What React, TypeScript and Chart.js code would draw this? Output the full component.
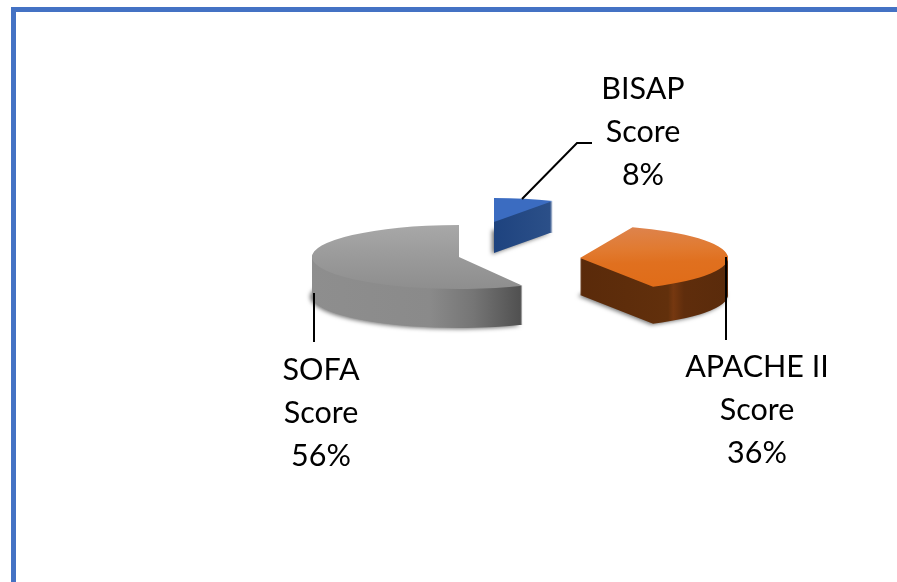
import React, { useEffect, useRef } from "react";
import { Chart, registerables } from "chart.js";

Chart.register(...registerables);

// ---- data ----
const categories = ["BISAP Score", "APACHE II Score", "SOFA Score"];
const values = [8, 36, 56];

// ---- per-slice look of the exploded 3D pie ----
const FONT = '30.5px Lato, "Open Sans", sans-serif';
const placement = [
  { cx: 494, cy: 222, rx: 122, ry: 24, depth: 31, rot: 0, startShift: 0 },
  { cx: 580, cy: 258, rx: 148, ry: 33, depth: 37, rot: -8, startShift: 0 },
  { cx: 459, cy: 257, rx: 147, ry: 32, depth: 39, rot: 0, startShift: -4 },
];
const topStops = [
  [[0.46, "#3b6cc1"], [0.54, "#2d5ba8"]],
  [[0.0, "#dd8552"], [0.4, "#e17a30"], [0.6, "#e0701f"], [1, "#e06c18"]],
  [[0, "#a8a8a8"], [0.5, "#9a9a9a"], [1, "#8e8e8e"]],
];
const sideStops = [
  [[0.5, "#1e437f"], [0.72, "#2b4f88"], [1, "#34568c"]],
  [[0.5, "#5a2a0a"], [0.74, "#62300c"], [0.76, "#763810"], [0.8, "#5f2d0c"], [1, "#5a2b0b"]],
  [[0, "#8e8e8e"], [0.4, "#8a8a8a"], [0.55, "#757575"], [0.72, "#4e4e4e"], [1, "#4e4e4e"]],
];
const labelAnchors = [
  { x: 643, y: 89 },
  { x: 757, y: 367 },
  { x: 321, y: 370 },
];
const leaders = [
  [[522, 199], [577, 143], [592, 143]],
  [[726, 257], [726, 340]],
  [[314, 293], [314, 342]],
];
const LINE_GAP = 43;

function linear(ctx: CanvasRenderingContext2D, x0: number, y0: number, x1: number, y1: number, stops: any[]) {
  const g = ctx.createLinearGradient(x0, y0, x1, y1);
  stops.forEach(([o, c]) => g.addColorStop(o, c));
  return g;
}

const pie3d = {
  id: "pie3d",
  beforeDatasetsDraw(chart: any) {
    const ctx: CanvasRenderingContext2D = chart.ctx;
    const arcs = chart.getDatasetMeta(0).data;
    arcs.forEach((arc: any, i: number) => {
      const p = placement[i];
      const R = arc.outerRadius;
      const base = arc.options;
      const start = arc.startAngle;
      const circ = arc.circumference;
      const shift = (p.startShift * Math.PI) / 180;
      arc.startAngle = start + shift;
      arc.circumference = circ - shift;
      const paint = (dy: number, fill: any) => {
        ctx.save();
        ctx.translate(p.cx, p.cy + dy);
        ctx.scale(p.rx / R, p.ry / R);
        ctx.rotate((p.rot * Math.PI) / 180);
        ctx.translate(-arc.x, -arc.y);
        arc.options = { ...base, backgroundColor: fill, borderWidth: 0, offset: 0 };
        arc.draw(ctx);
        ctx.restore();
      };
      const side = linear(ctx, arc.x - R, 0, arc.x + R, 0, sideStops[i]);
      const top = linear(ctx, 0, arc.y - R, 0, arc.y + R, topStops[i]);
      // soft contact shadow under the slice
      ctx.save();
      ctx.shadowColor = "rgba(0,0,0,0.55)";
      ctx.shadowBlur = 4;
      ctx.shadowOffsetX = -2;
      ctx.shadowOffsetY = 1;
      paint(p.depth, side);
      ctx.restore();
      for (let d = p.depth - 1; d > 0; d--) paint(d, side);
      paint(0, top);
      arc.options = base;
      arc.startAngle = start;
      arc.circumference = circ;
    });
    return false;
  },
  afterDraw(chart: any) {
    const ctx: CanvasRenderingContext2D = chart.ctx;
    const total = values.reduce((a, b) => a + b, 0);
    ctx.save();
    ctx.strokeStyle = "#000";
    ctx.lineWidth = 2;
    leaders.forEach((pts) => {
      ctx.beginPath();
      pts.forEach(([x, y], k) => (k ? ctx.lineTo(x, y) : ctx.moveTo(x, y)));
      ctx.stroke();
    });
    ctx.fillStyle = "#000";
    ctx.font = FONT;
    ctx.textAlign = "center";
    ctx.textBaseline = "middle";
    categories.forEach((name, i) => {
      const words = name.split(" ");
      const last = words.pop();
      const lines = [words.join(" "), last, `${Math.round((values[i] / total) * 100)}%`];
      lines.forEach((t, k) => ctx.fillText(t as string, labelAnchors[i].x, labelAnchors[i].y + k * LINE_GAP));
    });
    ctx.restore();
  },
};

export default function App() {
  const ref = useRef<HTMLCanvasElement>(null);
  useEffect(() => {
    document.body.style.margin = "0";
    document.body.style.background = "#fff";
    const chart = new Chart(ref.current!, {
      type: "pie",
      data: {
        labels: categories,
        datasets: [{ data: values, backgroundColor: ["#2f5fb0", "#e0701f", "#9a9a9a"], borderWidth: 0 }],
      },
      options: {
        responsive: false,
        animation: false,
        plugins: { legend: { display: false }, tooltip: { enabled: false } },
      },
      plugins: [pie3d],
    } as any);
    return () => chart.destroy();
  }, []);
  return (
    <div style={{ position: "relative", width: 897, height: 582, overflow: "hidden", background: "#fff" }}>
      <div
        style={{
          position: "absolute",
          left: 11,
          top: 7,
          width: 1000,
          height: 1000,
          borderLeft: "5px solid #4472C4",
          borderTop: "5px solid #4472C4",
        }}
      />
      <canvas ref={ref} width={897} height={582} style={{ position: "absolute", left: 0, top: 0, display: "block" }} />
    </div>
  );
}
